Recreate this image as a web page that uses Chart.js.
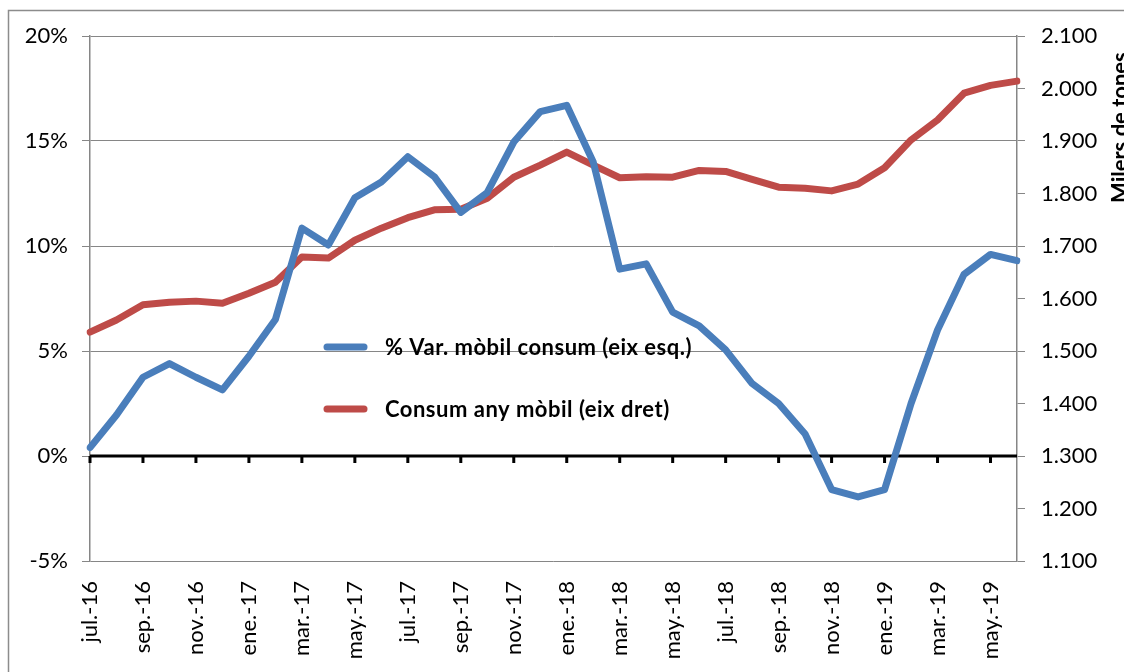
<!DOCTYPE html>
<html lang="ca">
<head>
    <meta charset="UTF-8">
    <title>Consum any mòbil</title>
    <script src="https://cdn.jsdelivr.net/npm/chart.js"></script>
    <style>
        body {
            margin: 0;
            padding: 0;
            background-color: #ffffff;
            overflow: hidden;
        }
        #chartBox {
            width: 1124px;
            height: 672px;
        }
    </style>
</head>
<body>
    <div id="chartBox">
        <canvas id="consumChart" width="1124" height="672"></canvas>
    </div>

    <script>
        // Dades (llegides del gràfic)
        const months = ['jul.-16', 'ago.-16', 'sep.-16', 'oct.-16', 'nov.-16', 'dic.-16',
            'ene.-17', 'feb.-17', 'mar.-17', 'abr.-17', 'may.-17', 'jun.-17',
            'jul.-17', 'ago.-17', 'sep.-17', 'oct.-17', 'nov.-17', 'dic.-17',
            'ene.-18', 'feb.-18', 'mar.-18', 'abr.-18', 'may.-18', 'jun.-18',
            'jul.-18', 'ago.-18', 'sep.-18', 'oct.-18', 'nov.-18', 'dic.-18',
            'ene.-19', 'feb.-19', 'mar.-19', 'abr.-19', 'may.-19', 'jun.-19'];

        // % variació mòbil (eix esquerre)
        const varPct = [0.4, 1.95, 3.75, 4.4, 3.75, 3.15, 4.75, 6.5, 10.85, 10.05, 12.3, 13.05,
            14.25, 13.3, 11.6, 12.55, 14.95, 16.4, 16.7, 14.0, 8.9, 9.15, 6.85, 6.2,
            5.05, 3.45, 2.5, 1.05, -1.6, -1.95, -1.6, 2.5, 6.0, 8.65, 9.6, 9.3];

        // Consum any mòbil, milers de tones (eix dret)
        const consum = [1536, 1559, 1588, 1593, 1595, 1591, 1610, 1631, 1679, 1677, 1711, 1734,
            1754, 1769, 1770, 1791, 1831, 1854, 1879, 1854, 1830, 1832, 1831, 1844,
            1842, 1827, 1812, 1810, 1805, 1818, 1849, 1902, 1940, 1991, 2006, 2014];

        const leftTicks = [-5, 0, 5, 10, 15, 20];
        const rightTicks = [1100, 1200, 1300, 1400, 1500, 1600, 1700, 1800, 1900, 2000, 2100];

        const seriesNames = ['% Var. mòbil consum (eix esq.)', 'Consum any mòbil (eix dret)'];
        const rightTitle = 'Milers de tones';

        const blue = '#4a7ebb';
        const red = '#be4b48';
        const gridGray = '#868686';
        const fontFamily = 'Lato, "Open Sans", Arial, sans-serif';

        function thousands(v) {
            return String(v).replace(/\B(?=(\d{3})+(?!\d))/g, '.');
        }

        // marc exterior, línia del zero i llegenda
        const decorations = {
            id: 'decorations',
            beforeDraw(chart) {
                const ctx = chart.ctx;
                ctx.save();
                ctx.strokeStyle = '#8c8c8c';
                ctx.lineWidth = 1.5;
                ctx.strokeRect(8.5, 10.5, 2000, 2000);
                ctx.restore();
            },
            beforeDatasetsDraw(chart) {
                const ctx = chart.ctx;
                const area = chart.chartArea;
                const y0 = chart.scales.y.getPixelForValue(0);
                ctx.save();
                ctx.strokeStyle = '#000000';
                ctx.lineWidth = 3;
                ctx.beginPath();
                ctx.moveTo(area.left, y0);
                ctx.lineTo(area.right, y0);
                for (let i = 0; i < months.length; i += 2) {
                    const x = chart.scales.x.getPixelForValue(i);
                    ctx.moveTo(x, y0);
                    ctx.lineTo(x, y0 + 7);
                }
                ctx.stroke();
                ctx.restore();
            },
            afterDraw(chart) {
                const ctx = chart.ctx;
                ctx.save();
                // llegenda
                const rows = [[blue, 347], [red, 409]];
                ctx.lineWidth = 7;
                ctx.lineCap = 'round';
                ctx.font = 'bold 22px ' + fontFamily;
                ctx.letterSpacing = '0.5px';
                ctx.textBaseline = 'middle';
                ctx.fillStyle = '#000000';
                rows.forEach((r, k) => {
                    ctx.strokeStyle = r[0];
                    ctx.beginPath();
                    ctx.moveTo(327, r[1]);
                    ctx.lineTo(364, r[1]);
                    ctx.stroke();
                    ctx.fillText(seriesNames[k], 385, r[1] + 1);
                });
                // títol eix dret
                ctx.letterSpacing = '0px';
                ctx.translate(1128, 203);
                ctx.rotate(-Math.PI / 2);
                ctx.textBaseline = 'alphabetic';
                ctx.font = 'bold 22px ' + fontFamily;
                ctx.fillText(rightTitle, 0, 0);
                ctx.restore();
            }
        };

        const ctxConsum = document.getElementById('consumChart').getContext('2d');
        const consumChart = new Chart(ctxConsum, {
            type: 'line',
            data: {
                labels: months,
                datasets: [{
                    label: seriesNames[0],
                    data: varPct,
                    yAxisID: 'y',
                    borderColor: blue,
                    borderWidth: 7,
                    borderJoinStyle: 'round',
                    borderCapStyle: 'round',
                    pointRadius: 0,
                    tension: 0,
                    fill: false
                }, {
                    label: seriesNames[1],
                    data: consum,
                    yAxisID: 'y1',
                    borderColor: red,
                    borderWidth: 7,
                    borderJoinStyle: 'round',
                    borderCapStyle: 'round',
                    pointRadius: 0,
                    tension: 0,
                    fill: false
                }]
            },
            options: {
                responsive: false,
                animation: false,
                layout: { padding: { top: 36, left: 0, right: 0, bottom: 0 } },
                plugins: {
                    legend: { display: false },
                    tooltip: { enabled: false }
                },
                scales: {
                    x: {
                        offset: false,
                        grid: { display: false },
                        border: { display: false },
                        ticks: {
                            autoSkip: false,
                            minRotation: 90,
                            maxRotation: 90,
                            padding: 12,
                            color: '#000000',
                            font: { family: fontFamily, size: 22 },
                            callback: (v, i) => (i % 2 === 0 ? months[i] : '')
                        },
                        afterFit: s => { s.height = 111; }
                    },
                    y: {
                        position: 'left',
                        min: leftTicks[0],
                        max: leftTicks[leftTicks.length - 1],
                        afterBuildTicks: s => { s.ticks = leftTicks.map(v => ({ value: v })); },
                        grid: { color: gridGray, lineWidth: 1, tickLength: 8 },
                        border: { color: gridGray, width: 1.5 },
                        ticks: {
                            padding: 14,
                            color: '#000000',
                            font: { family: fontFamily, size: 22 },
                            callback: v => v + '%'
                        },
                        afterFit: s => { s.width = 90; }
                    },
                    y1: {
                        position: 'right',
                        min: rightTicks[0],
                        max: rightTicks[rightTicks.length - 1],
                        afterBuildTicks: s => { s.ticks = rightTicks.map(v => ({ value: v })); },
                        grid: { drawOnChartArea: false, color: gridGray, lineWidth: 1, tickLength: 8 },
                        border: { color: gridGray, width: 1.5 },
                        ticks: {
                            padding: 16,
                            color: '#000000',
                            font: { family: fontFamily, size: 22 },
                            callback: v => thousands(v)
                        },
                        afterFit: s => { s.width = 107; }
                    }
                }
            },
            plugins: [decorations]
        });
    </script>
</body>
</html>
